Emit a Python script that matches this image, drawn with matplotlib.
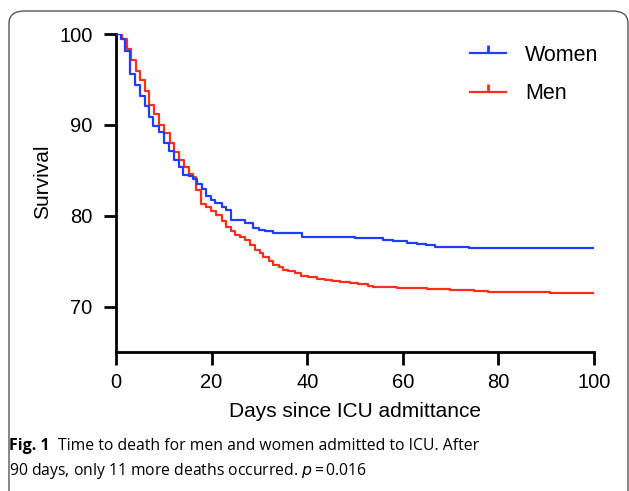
import matplotlib.pyplot as plt
from matplotlib.lines import Line2D
from matplotlib.patches import FancyBboxPatch

# Kaplan-Meier steps (day of drop, survival % after drop)
women_days = [0, 1.0, 1.9, 2.9, 4.0, 5.0, 6.1, 7.0, 7.8, 8.9, 10.0, 11.0, 12.1, 13.1,
              14.0, 15.2, 16.1, 17.0, 18.0, 18.9, 19.8, 20.7, 22.1, 23.0, 24.0, 27.0,
              28.7, 30.0, 31.2, 32.9, 38.9, 50.0, 55.9, 57.9, 60.9, 62.9, 64.9, 66.8,
              73.9, 100]
women_surv = [100, 99.45, 98.1, 95.6, 94.4, 93.2, 92.05, 90.85, 89.9, 89.2, 88.05, 87.1,
              86.2, 85.4, 84.5, 84.4, 84.1, 83.5, 83.0, 82.2, 81.8, 81.4, 81.0, 80.7,
              79.6, 79.2, 78.7, 78.5, 78.35, 78.1, 77.7, 77.55, 77.36, 77.25, 77.07,
              76.9, 76.8, 76.6, 76.5, 76.5]

men_days = [0, 1.3, 2.2, 3.1, 4.2, 5.0, 6.1, 7.0, 8.0, 9.1, 10.1, 11.2, 12.2, 13.2, 14.2,
            15.2, 16.1, 16.8, 17.8, 18.9, 19.9, 21.0, 22.1, 23.0, 24.0, 24.9, 25.9, 27.0,
            28.0, 29.1, 30.1, 30.8, 32.1, 32.9, 34.0, 35.0, 36.0, 37.4, 38.8, 40.2, 42.0,
            43.7, 45.1, 46.9, 49.0, 50.7, 52.8, 53.8, 58.7, 65.0, 69.9, 74.8, 77.9, 82.8,
            90.8, 100]
men_surv = [100, 99.4, 98.4, 97.1, 95.9, 94.9, 93.7, 92.2, 91.2, 90.0, 89.1, 88.0, 87.0,
            86.2, 85.4, 84.6, 84.25, 82.8, 81.35, 81.0, 80.6, 80.1, 79.4, 78.8, 78.3,
            77.9, 77.65, 77.4, 76.8, 76.3, 75.9, 75.5, 75.1, 74.6, 74.4, 74.1, 73.9,
            73.7, 73.4, 73.3, 73.1, 73.0, 72.82, 72.7, 72.6, 72.5, 72.34, 72.23, 72.12,
            72.0, 71.9, 71.76, 71.68, 71.6, 71.57, 71.57]

x_ticks = [0, 20, 40, 60, 80, 100]
y_ticks = [70, 80, 90, 100]

blue = "#1f3dff"
red = "#ff2e1a"

plt.rcParams['font.family'] = ['Liberation Sans', 'DejaVu Sans']

fig = plt.figure(figsize=(6.29, 4.91), dpi=100)
ax = fig.add_axes([116/629, 1 - 352/491, (594 - 116)/629, (352 - 34)/491])

ax.step(women_days, women_surv, where='post', color=blue, lw=1.6, zorder=3)
ax.step(men_days, men_surv, where='post', color=red, lw=1.6, zorder=2)

ax.set_xlim(0, 100)
ax.set_ylim(65.05, 100)
ax.set_xticks(x_ticks)
ax.set_yticks(y_ticks)
ax.tick_params(axis='both', length=9, width=2, labelsize=14.5)
ax.tick_params(axis='y', pad=8)
ax.tick_params(axis='x', pad=6)
for s in ['top', 'right']:
    ax.spines[s].set_visible(False)
for s in ['left', 'bottom']:
    ax.spines[s].set_linewidth(2)

ax.set_xlabel("Days since ICU admittance", fontsize=15, labelpad=7)
ax.set_ylabel("Survival", fontsize=15)
ax.yaxis.set_label_coords(-0.134, 0.535)

handles = [Line2D([], [], color=blue, lw=1.6, marker=2, markersize=6, markeredgewidth=2),
           Line2D([], [], color=red, lw=1.6, marker=2, markersize=6, markeredgewidth=2)]
ax.legend(handles, ["Women", "Men"], loc='upper left',
          bbox_to_anchor=(470/629, 1 - 45/491), bbox_transform=fig.transFigure,
          frameon=False, fontsize=15.5, handlelength=1.65, handletextpad=0.9,
          labelspacing=0.8, borderpad=0, borderaxespad=0)

# rounded frame around the figure panel
frame = FancyBboxPatch((9/629, -20/491), 619/629, (491 - 11 + 20)/491,
                       boxstyle="round,pad=0,rounding_size=0.025",
                       transform=fig.transFigure, fill=False, ec="#555555", lw=1)
fig.patches.append(frame)

cap_font = ['Open Sans', 'DejaVu Sans']
fig.text(9/629, 1 - 450/491, "Fig. 1", fontsize=11.5, fontweight='bold',
         family=cap_font, va='baseline')
fig.text(58/629, 1 - 450/491, "Time to death for men and women admitted to ICU. After",
         fontsize=11.3, family=cap_font, va='baseline')
fig.text(9/629, 1 - 475/491, "90 days, only 11 more deaths occurred. $p\\,$=$\\,$0.016",
         fontsize=11.3, family=cap_font, va='baseline')

fig.savefig("out.png", dpi=100)
